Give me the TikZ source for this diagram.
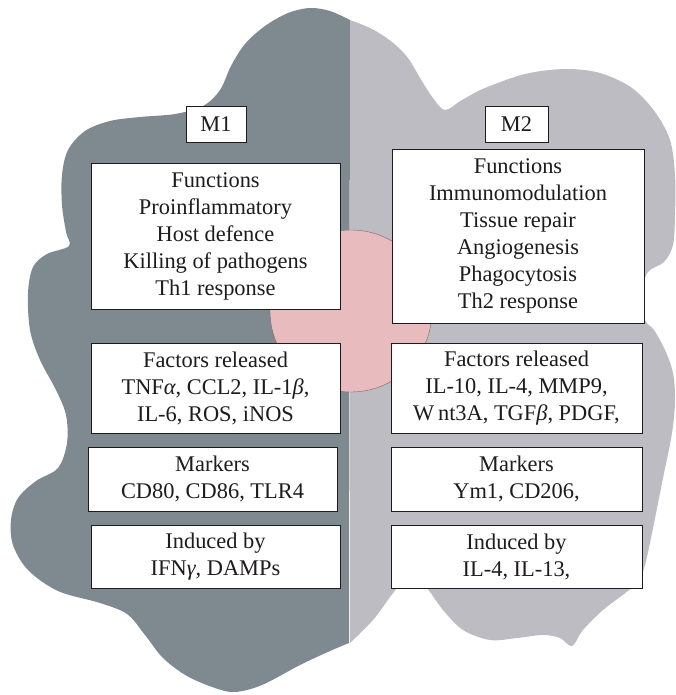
\documentclass[tikz,border=0pt]{standalone}
\usepackage{fontspec}
\setmainfont{Liberation Serif}
\definecolor{mOneGrey}{RGB}{127,138,144}
\definecolor{mTwoGrey}{RGB}{189,188,195}
\definecolor{corePink}{RGB}{232,187,190}
\definecolor{inkGrey}{RGB}{30,27,28}
\begin{document}
\begin{tikzpicture}[x=1pt,y=-1pt,
        panel/.style={draw=inkGrey, line width=0.9pt, fill=white, text=inkGrey,
            align=center, inner sep=2pt, font=\fontsize{22.4}{27}\selectfont},
        tag/.style={panel, minimum width=60pt, minimum height=36pt}]
    \useasboundingbox (0,0) rectangle (675,695);

    % M1 half of the cell
    \fill[mOneGrey] plot[smooth, tension=0.55] coordinates {
        (350,20) (330,11) (310,8) (288,13) (265,26) (245,44) (231,66) (220,90)
        (203,106) (175,114) (140,117) (110,121) (85,131) (68,150) (62,175)
        (62,205) (66,232) (69,246) (47,254) (33,267) (28,293) (30,330) (40,360)
        (56,390) (66,415) (67,443) (58,468) (36,481) (18,498) (11,520) (13,545)
        (28,570) (58,591) (100,603) (127,614) (145,635) (163,658) (187,676)
        (215,688) (235,692) (262,685) (300,665) (330,651) (349,643)} -- cycle;

    % M2 half of the cell
    \fill[mTwoGrey] plot[smooth, tension=0.55] coordinates {
        (350,20) (372,29) (392,42) (408,58) (420,78) (433,98) (445,110) (462,100)
        (485,88) (525,74) (565,69) (600,73) (632,88) (655,112) (670,140)
        (675,175) (675,215) (673,245) (664,262) (648,272) (640,295) (645,320)
        (654,330) (665,350) (673,373) (675,400) (672,433) (662,483) (652,533)
        (645,565) (638,582) (624,594) (603,610) (583,630) (572,646) (560,638)
        (543,635) (517,638) (490,640) (463,630) (443,610) (427,588) (412,572)
        (397,588) (390,597) (373,620) (350,643)} -- cycle;

    % nucleus
    \filldraw[fill=corePink, draw=corePink!55!black, line width=0.4pt] (351,311) circle (81pt);

    \node[tag] (m1) at (216,124) {M1};
    \node[tag, minimum width=63pt] (m2) at (516.5,124) {M2};

    \node[panel, minimum width=249pt, minimum height=146pt] (m1fun) at (215.5,236)
        {Functions\\Proinflammatory\\Host defence\\Killing of pathogens\\Th1 response};
    \node[panel, minimum width=252pt, minimum height=174pt] (m2fun) at (518,236)
        {Functions\\Immunomodulation\\Tissue repair\\Angiogenesis\\Phagocytosis\\Th2 response};

    \node[panel, minimum width=249pt, minimum height=90pt] (m1fac) at (215.5,388)
        {Factors released\\TNF\textit{α}, CCL2, IL-1\textit{β},\\IL-6, ROS, iNOS};
    \node[panel, minimum width=251pt, minimum height=90pt] (m2fac) at (516.5,388)
        {Factors released\\IL-10, IL-4, MMP9,\\W\,nt3A, TGF\textit{β}, PDGF,};

    \node[panel, minimum width=249pt, minimum height=64pt] (m1mark) at (212.5,479)
        {Markers\\CD80, CD86, TLR4};
    \node[panel, minimum width=251pt, minimum height=64pt] (m2mark) at (516.5,479)
        {Markers\\Ym1, CD206,};

    \node[panel, minimum width=249pt, minimum height=63pt] (m1ind) at (215.5,556.5)
        {Induced by\\IFN\textit{γ}, DAMPs};
    \node[panel, minimum width=251pt, minimum height=63pt] (m2ind) at (516.5,556.5)
        {Induced by\\IL-4, IL-13,};
\end{tikzpicture}
\end{document}
